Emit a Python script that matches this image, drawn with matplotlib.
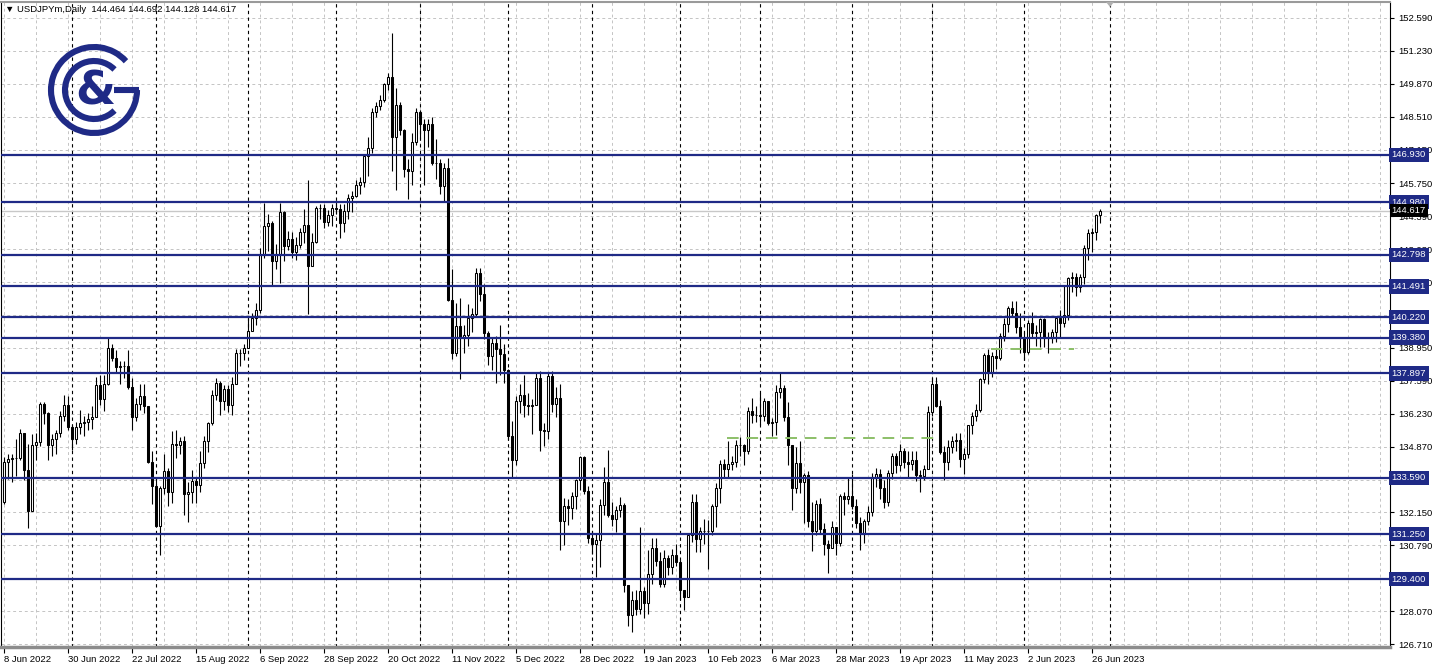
import numpy as np
import pandas as pd
import matplotlib
matplotlib.use("Agg")
import matplotlib.pyplot as plt
from matplotlib.patches import Arc, Polygon
from matplotlib.transforms import blended_transform_factory

plt.rcParams['font.family'] = ['Liberation Sans', 'DejaVu Sans']

# daily bars USDJPY, 8 Jun 2022 .. 28 Jun 2023
closes = [
    # Jun 2022
    134.25, 134.35, 134.40, 134.40, 135.45, 133.90, 132.20, 134.95, 135.05, 136.65, 136.25, 134.95, 135.20, 135.45, 136.15, 136.60, 135.70,
    # Jul
    135.20, 135.70, 135.85, 135.90, 136.00, 136.10, 137.40, 136.85, 137.45, 138.95, 138.55, 138.15, 138.20, 138.20, 137.35, 136.10, 136.65, 136.95, 136.55, 134.25, 133.25,
    # Aug
    131.60, 133.15, 133.85, 133.00, 135.00, 134.95, 135.10, 132.90, 133.00, 133.45, 133.30, 134.20, 135.10, 135.85, 137.00, 137.50, 136.75, 137.25, 136.60, 137.45, 138.75, 138.75, 138.95,
    # Sep
    139.65, 140.20, 140.50, 142.80, 144.00, 144.10, 142.55, 142.85, 144.55, 143.15, 143.45, 142.90, 143.20, 143.75, 144.05, 142.35, 143.35, 144.75, 144.75, 144.15, 144.45, 144.75,
    # Oct
    144.70, 144.10, 144.60, 145.15, 145.25, 145.70, 145.80, 146.90, 147.20, 148.70, 148.95, 149.20, 149.85, 150.15, 147.65, 149.00, 147.95, 146.35, 146.25, 147.45, 148.70,
    # Nov
    148.20, 147.95, 148.20, 146.60, 146.60, 145.65, 146.40, 140.95, 138.75, 139.85, 139.35, 139.50, 140.20, 140.35, 142.05, 141.20, 139.55, 138.60, 139.15, 138.90, 138.70, 138.05,
    # Dec
    135.30, 134.30, 136.75, 137.00, 136.60, 136.55, 136.60, 137.70, 135.55, 135.50, 137.80, 136.65, 136.90, 131.80, 132.40, 132.35, 132.85, 133.50, 134.45, 133.05, 131.10,
    # Jan 2023
    130.85, 131.00, 132.45, 133.40, 132.05, 131.90, 132.25, 132.45, 129.15, 127.90, 128.55, 128.15, 128.90, 128.40, 129.60, 130.70, 130.15, 129.20, 130.25, 129.90, 130.40, 130.10,
    # Feb
    128.95, 128.65, 131.20, 132.60, 131.05, 131.40, 131.40, 131.40, 132.40, 133.15, 134.15, 133.95, 134.15, 134.25, 134.95, 134.95, 134.70, 136.35, 136.20, 136.20,
    # Mar
    136.15, 136.75, 135.85, 135.90, 137.15, 137.30, 136.10, 134.95, 133.15, 134.20, 133.40, 133.70, 131.80, 131.40, 132.50, 131.45, 130.85, 130.70, 131.55, 130.90, 132.85, 132.70, 132.85,
    # Apr
    132.40, 131.70, 131.30, 131.80, 132.15, 133.60, 133.75, 133.15, 132.60, 133.80, 134.50, 134.10, 134.70, 134.25, 134.15, 134.30, 133.70, 133.65, 133.95, 136.30,
    # May
    137.45, 136.55, 134.65, 134.25, 134.85, 135.10, 135.15, 134.35, 134.55, 135.75, 136.15, 136.40, 137.65, 138.65, 137.95, 138.60, 138.55, 139.45, 139.95, 140.60, 140.40, 139.80, 139.35,
    # Jun
    138.80, 140.00, 139.55, 139.60, 140.15, 139.35, 139.40, 139.60, 140.20, 140.00, 140.30, 141.85, 141.90, 141.45, 141.90, 143.10, 143.70, 143.75, 144.46, 144.617,
]
highs = [
    134.45, 134.55, 134.55, 135.20, 135.60, 135.45, 135.00, 135.40, 135.45, 136.70, 136.70, 136.30, 135.40, 135.55, 136.35, 137.00, 136.95,
    135.75, 135.90, 136.40, 136.15, 136.25, 136.55, 137.75, 137.85, 137.85, 139.40, 139.10, 138.85, 138.40, 138.40, 138.85, 137.70, 136.90, 137.45, 137.45, 136.55, 134.70,
    133.60, 133.25, 134.55, 134.00, 135.50, 135.55, 135.25, 135.30, 133.40, 133.90, 133.60, 134.70, 135.30, 135.90, 137.20, 137.70, 137.60, 137.40, 137.40, 137.75, 138.90, 138.90, 139.10,
    140.20, 140.40, 140.80, 143.10, 144.95, 144.50, 144.20, 143.25, 144.95, 144.60, 143.80, 143.75, 143.55, 143.90, 144.70, 145.90, 143.70, 144.80, 144.90, 144.90, 144.65, 144.90,
    145.00, 144.90, 144.90, 145.30, 145.45, 145.90, 146.00, 146.95, 147.65, 148.85, 149.10, 149.40, 149.90, 150.30, 151.95, 149.70, 149.10, 148.00, 146.75, 147.85, 148.85,
    148.80, 148.40, 148.40, 148.50, 147.60, 146.75, 146.60, 146.80, 142.20, 140.80, 141.00, 139.90, 140.75, 140.60, 142.25, 142.25, 141.60, 139.65, 139.35, 139.45, 139.90, 139.10,
    138.10, 135.95, 136.95, 137.45, 137.85, 137.10, 136.85, 137.90, 138.00, 135.85, 137.90, 138.00, 137.35, 137.45, 132.75, 132.70, 133.00, 133.55, 134.50, 134.50, 133.25,
    131.40, 131.30, 132.70, 134.05, 134.75, 132.60, 132.40, 132.80, 132.55, 129.15, 128.90, 128.95, 131.55, 129.05, 130.60, 131.10, 131.10, 130.50, 130.60, 130.40, 130.65, 130.85,
    130.20, 128.85, 131.20, 132.90, 132.90, 131.55, 131.90, 131.85, 132.50, 133.35, 134.30, 134.35, 135.10, 134.50, 135.15, 135.25, 135.00, 136.50, 136.90, 136.55,
    137.10, 136.90, 136.75, 136.05, 137.40, 137.90, 137.40, 136.70, 134.95, 134.85, 135.10, 133.80, 133.85, 132.60, 132.65, 132.75, 131.70, 131.00, 131.80, 131.55, 132.90, 133.00, 133.60,
    133.75, 132.70, 131.95, 131.90, 132.40, 133.80, 134.00, 133.95, 133.50, 133.90, 134.60, 134.60, 135.00, 134.80, 134.70, 134.70, 134.70, 133.90, 134.10, 136.55,
    137.75, 137.75, 136.80, 134.90, 135.15, 135.30, 135.45, 135.45, 134.80, 135.75, 136.30, 136.65, 137.70, 138.75, 138.90, 138.80, 138.90, 139.55, 140.20, 140.70, 140.90, 140.90, 140.40,
    139.60, 140.10, 140.45, 139.90, 140.20, 140.20, 139.60, 139.75, 140.20, 140.50, 141.50, 141.90, 142.10, 142.05, 142.00, 143.20, 143.85, 143.90, 144.50, 144.692,
]
lows = [
    132.50, 133.55, 133.40, 133.65, 134.30, 133.50, 131.50, 132.40, 134.30, 134.90, 135.80, 134.30, 134.50, 134.55, 135.25, 135.95, 135.55,
    134.75, 135.00, 135.40, 135.30, 135.55, 135.60, 136.15, 136.60, 136.35, 137.40, 138.40, 137.90, 137.45, 137.70, 137.25, 135.55, 135.95, 136.40, 136.25, 134.20, 132.50,
    131.55, 130.40, 132.90, 132.40, 132.55, 134.40, 134.55, 132.05, 131.75, 132.55, 132.55, 133.00, 134.00, 134.65, 135.75, 136.80, 136.20, 136.40, 136.30, 136.20, 137.80, 138.20, 138.45,
    138.95, 139.70, 139.90, 140.40, 142.65, 142.95, 141.50, 142.20, 141.65, 142.55, 143.00, 142.65, 142.60, 143.10, 143.30, 140.35, 142.40, 143.30, 144.30, 143.90, 144.00, 144.00,
    144.50, 143.50, 143.75, 144.30, 144.55, 145.20, 145.30, 145.60, 146.05, 147.00, 148.50, 148.80, 149.10, 149.60, 146.25, 145.50, 147.75, 146.00, 145.10, 145.70, 147.35,
    147.60, 145.70, 147.25, 146.50, 145.95, 145.30, 145.00, 140.90, 138.50, 138.60, 137.65, 138.75, 139.05, 139.60, 140.25, 140.90, 139.30, 138.25, 138.05, 137.50, 137.85, 137.50,
    135.15, 133.60, 134.10, 136.25, 136.10, 136.20, 135.40, 136.60, 134.70, 134.90, 135.20, 136.30, 136.10, 130.60, 130.80, 131.65, 131.90, 132.30, 133.10, 132.90, 130.90,
    130.45, 129.50, 129.90, 132.05, 131.95, 131.60, 131.35, 131.95, 128.85, 127.45, 127.20, 127.90, 127.95, 127.80, 127.95, 129.20, 129.95, 129.05, 129.05, 129.55, 129.60, 129.95,
    128.55, 128.10, 128.75, 130.95, 130.50, 130.50, 130.85, 129.80, 131.20, 131.55, 132.55, 133.60, 133.60, 133.90, 134.05, 134.50, 134.10, 134.55, 135.85, 135.90,
    135.75, 135.95, 135.75, 135.30, 135.35, 136.90, 135.95, 134.10, 132.25, 132.95, 132.95, 131.70, 131.55, 130.55, 131.20, 131.25, 130.40, 129.65, 130.80, 130.40, 130.75, 132.05, 132.50,
    132.30, 131.50, 130.60, 130.90, 131.65, 132.00, 133.20, 132.70, 132.35, 132.40, 133.55, 133.80, 133.85, 134.00, 133.60, 133.90, 133.45, 133.00, 133.50, 133.95,
    136.15, 136.50, 134.55, 133.50, 133.90, 134.60, 134.70, 134.05, 133.75, 134.40, 135.40, 135.95, 136.30, 137.50, 137.45, 137.75, 138.10, 138.45, 139.25, 139.60, 140.25, 139.55, 138.75,
    138.45, 138.70, 139.35, 139.05, 139.00, 139.00, 138.75, 139.15, 139.20, 139.35, 139.80, 140.10, 141.25, 141.10, 141.25, 141.60, 142.60, 142.90, 143.40, 144.128,
]
first_open = 132.60

date_labels = ["8 Jun 2022", "30 Jun 2022", "22 Jul 2022", "15 Aug 2022", "6 Sep 2022", "28 Sep 2022",
               "20 Oct 2022", "11 Nov 2022", "5 Dec 2022", "28 Dec 2022", "19 Jan 2023", "10 Feb 2023",
               "6 Mar 2023", "28 Mar 2023", "19 Apr 2023", "11 May 2023", "2 Jun 2023", "26 Jun 2023"]

price_ticks = [152.590, 151.230, 149.870, 148.510, 147.150, 145.750, 144.390, 143.030, 141.670, 140.310,
               138.950, 137.590, 136.230, 134.870, 133.510, 132.150, 130.790, 129.430, 128.070, 126.710]
# labels that the level boxes cover completely are left blank
hidden_ticks = [140.310, 133.510, 129.430]

levels = [146.930, 144.980, 142.798, 141.491, 140.220, 139.380, 137.897, 133.590, 131.250, 129.400]
level_labels = ["146.930", "144.980", "142.798", "141.491", "140.220", "139.380", "137.897", "133.590", "131.250", "129.400"]

# green trend segments (bar index from, bar index to, price)
green_x = [[180.8, 233.3], [246.8, 267.5]]
green_y = [135.24, 138.92]

last_price = 144.617

# ---- bar dates (MT4 skipped 26 Dec) ----
dates = pd.bdate_range("2022-06-08", "2023-06-28")
dates = dates[dates != pd.Timestamp("2022-12-26")]
n = len(closes)
x = np.arange(n)
c = np.array(closes)
o = np.array([first_open] + closes[:-1])
h = np.maximum(np.array(highs), np.maximum(o, c))
l = np.minimum(np.array(lows), np.minimum(o, c))
month_sep = [i for i in range(1, n) if dates[i].month != dates[i - 1].month] + [276.5]

navy = "#1f2a86"

fig = plt.figure(figsize=(14.37, 6.69), dpi=100)
ax = fig.add_axes([1 / 1437, 22 / 669, 1389 / 1437, 645 / 669])
ax.set_xlim(-0.75, 346.5)
ax.set_ylim(126.59, 153.25)

# grid
for p in price_ticks:
    ax.axhline(p, color="#c4c4c4", lw=0.7, ls=(0, (3, 3)), zorder=1)
for gx in range(0, 347, 8):
    ax.axvline(gx, color="#c4c4c4", lw=0.7, ls=(0, (3, 3)), zorder=1)
for ms in month_sep:
    ax.axvline(ms, color="black", lw=0.8, ls=(0, (3, 3)), zorder=1.5)

ax.axhline(last_price, color="#c8c8c8", lw=1.0, zorder=1.6)

# candles
ax.vlines(x, l, h, color="black", lw=0.8, zorder=3)
up = c >= o
ax.bar(x[up], (c - o)[up], bottom=o[up], width=0.6, facecolor="white", edgecolor="black", lw=0.75, zorder=4)
ax.bar(x[~up], (o - c)[~up], bottom=c[~up], width=0.6, facecolor="black", edgecolor="black", lw=0.75, zorder=4)

# horizontal levels
for lv in levels:
    ax.axhline(lv, color=navy, lw=1.6, zorder=5)
for gxs, gy in zip(green_x, green_y):
    ax.plot(gxs, [gy, gy], color="#8cbf68", lw=1.4, ls=(0, (6, 4)), zorder=5)

# axes look
ax.yaxis.tick_right()
ax.set_yticks(price_ticks)
ax.set_yticklabels(["" if p in hidden_ticks else f"{p:.3f}" for p in price_ticks])
ax.set_xticks(np.arange(0, 16 * len(date_labels), 16))
ax.set_xticklabels(date_labels)
for t in ax.get_xticklabels():
    t.set_ha("left")
ax.tick_params(axis="y", length=3, width=0.8, labelsize=6.8, pad=3, colors="black")
ax.tick_params(axis="x", length=4, width=0.8, labelsize=6.8, pad=2, colors="black")
ax.spines["left"].set_color("black")
ax.spines["right"].set_color("black")
ax.spines["top"].set_color("#9a9a9a")
ax.spines["top"].set_linewidth(1.5)
ax.spines["bottom"].set_color("#8c8c8c")
ax.spines["bottom"].set_linewidth(2.5)

# price labels on the right axis
tr = blended_transform_factory(ax.transAxes, ax.transData)
for lv, lb in zip(levels, level_labels):
    ax.text(1.0012, lv, lb, transform=tr, color="white", fontsize=6.8, va="center", ha="left",
            bbox=dict(boxstyle="square,pad=0.28", fc=navy, ec="none"), clip_on=False, zorder=10)
ax.text(1.0012, last_price, f"{last_price:.3f}", transform=tr, color="white", fontsize=6.8, va="center",
        ha="left", bbox=dict(boxstyle="square,pad=0.22", fc="black", ec="none"), clip_on=False, zorder=11)

# overlay in pixel units for the header and logo
ov = fig.add_axes([0, 0, 1, 1], facecolor="none")
ov.set_xlim(0, 1437)
ov.set_ylim(0, 669)
ov.axis("off")
ov.text(5, 669 - 10, "\u25BC USDJPYm,Daily  144.464 144.692 144.128 144.617", fontsize=6.8,
        va="center", ha="left", family=["Liberation Sans", "DejaVu Sans"])
ov.add_patch(Polygon([[1106, 667], [1114, 667], [1110, 662]], closed=True, fc="#b0b0b0", ec="none"))

cx, cy = 94, 669 - 90
ov.add_patch(Arc((cx, cy), 86, 86, theta1=42, theta2=360, lw=4.4, color=navy))
ov.plot([cx + 20, cx + 45], [cy, cy], color=navy, lw=4.4, solid_capstyle="butt")
ov.add_patch(Arc((cx, cy), 58, 58, theta1=45, theta2=315, lw=4.4, color=navy))
ov.text(cx + 1, cy - 2, "&", fontsize=33, fontweight="bold", color=navy, ha="center", va="center",
        family="DejaVu Sans")

fig.savefig("out.png", dpi=100)
